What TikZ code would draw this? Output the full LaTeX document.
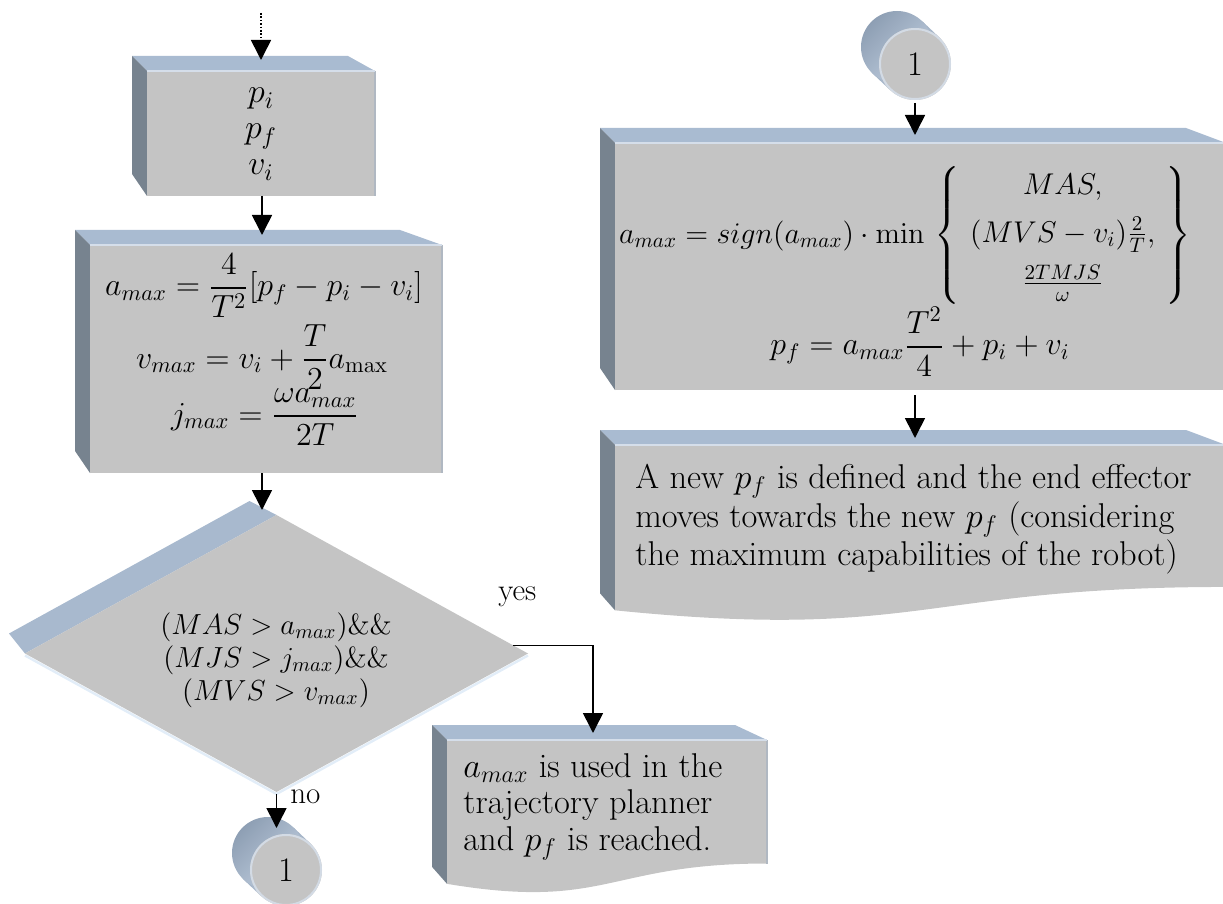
\RequirePackage{fix-cm}
\documentclass[tikz,border=0pt]{standalone}
\usepackage{amsmath}
\usetikzlibrary{arrows.meta,calc,backgrounds}
\definecolor{frontgray}{HTML}{C4C4C4}
\definecolor{topblue}{HTML}{A9BBD1}
\definecolor{sideslate}{HTML}{77838F}
\definecolor{hilite}{HTML}{D5DEEA}
\definecolor{rimgray}{HTML}{B0B8C2}
\definecolor{bevelblue}{HTML}{A8B9CE}
\definecolor{edgelight}{HTML}{E2EDF8}
\definecolor{cyldark}{HTML}{8E9FB4}
\definecolor{cyllight}{HTML}{C2D0E1}
\definecolor{cylrim}{HTML}{D3DBE5}
\tikzset{
  txt/.style={inner sep=0pt, font=\fontsize{17.2}{20}\selectfont},
  mtxt/.style={inner sep=0pt, font=\fontsize{16}{19}\selectfont},
  dtxt/.style={inner sep=0pt, font=\fontsize{14.5}{18}\selectfont},
  ltxt/.style={inner sep=0pt, font=\fontsize{15.5}{19}\selectfont},
  shapebox/.style={rectangle, inner sep=0pt, outer sep=0pt},
  conn/.style={circle, inner sep=0pt, outer sep=0pt, minimum size=36pt, font=\fontsize{17.2}{20}\selectfont},
  arr/.style={draw=black, line width=0.8pt, -{Triangle[width=10pt,length=10pt]}},
  dotarr/.style={arr, dash pattern=on 0.8pt off 0.9pt},
  topface/.style={fill=topblue},
  sideface/.style={fill=sideslate},
  frontface/.style={fill=frontgray},
  hiline/.style={draw=hilite, line width=1pt},
  rimline/.style={draw=rimgray, line width=1.2pt},
  cylbody/.style={left color=cyldark, right color=cyllight, shading angle=45},
}
\newcommand\rectbevel[2]{%
  \fill[topface] ($(#1.north west)+(-15,-15)$) -- ($(#1.north east)+(-#2,-15)$) -- (#1.north east) -- (#1.north west) -- cycle;
  \fill[sideface] ($(#1.north west)+(-15,-15)$) -- (#1.north west) -- (#1.south west) -- ($(#1.south west)+(-15,-22)$) -- cycle;
  \fill[frontface] (#1.north west) rectangle (#1.south east);
  \draw[rimline] (#1.north east) -- (#1.south east);
  \draw[hiline] (#1.north west) -- (#1.north east);
}
\newcommand\docbevel[2]{%
  \coordinate (#1L) at ($(#1.north west)!0.934!(#1.south west)$);
  \coordinate (#1R) at ($(#1.north east)!0.802!(#1.south east)$);
  \fill[topface] ($(#1.north west)+(-15,-15)$) -- ($(#1.north east)+(-#2,-15)$) -- (#1.north east) -- (#1.north west) -- cycle;
  \fill[sideface] ($(#1.north west)+(-15,-15)$) -- (#1.north west) -- (#1L) -- ($(#1L)+(-15,-17)$) -- cycle;
  \fill[frontface] (#1.north west) -- (#1.north east) -- (#1R) .. controls ($(#1.north)!0.802!(#1.south)$) and ($(#1.north)!1.108!(#1.south)$) .. (#1L) -- cycle;
  \draw[rimline] (#1.north east) -- (#1R);
  \draw[hiline] (#1.north west) -- (#1.north east);
}
\newcommand\cylconn[1]{%
  \coordinate (#1back) at ($(#1.center)+(-18,-17)$);
  \shade[cylbody] ($(#1back)+(25.5,-25.5)$) -- ($(#1.center)+(25.5,-25.5)$) -- ($(#1.center)+(-25.5,25.5)$) -- ($(#1back)+(-25.5,25.5)$) -- cycle;
  \shade[cylbody] (#1back) circle[radius=18pt];
  \fill[frontface] (#1.center) circle[radius=18pt];
  \draw[draw=cylrim, line width=1pt] (#1.center) circle[radius=17.5pt];
}
\begin{document}
\begin{tikzpicture}[x=0.5pt,y=-0.5pt]
\useasboundingbox (0,0) rectangle (1223,904);
\clip (0,0) rectangle (1223,904);

% shape nodes
\node[shapebox, minimum width=114pt, minimum height=62.5pt] (b1) at (261,133.5) {};
\node[shapebox, minimum width=176pt, minimum height=114pt] (b2) at (266,359) {};
\node[shapebox, minimum width=251.5pt, minimum height=138.5pt] (dia) at (276.5,653.5) {};
\node[shapebox, minimum width=160pt, minimum height=77pt] (b3) at (607,817) {};
\node[shapebox, minimum width=305.5pt, minimum height=123.5pt] (b4) at (920.5,266.5) {};
\node[shapebox, minimum width=305.5pt, minimum height=88.5pt] (b5) at (920.5,533.5) {};
\node[conn] (c1) at (286,870) {1};
\node[conn] (c2) at (915,64) {1};

\begin{scope}[on background layer]
  \rectbevel{b1}{27}
  \rectbevel{b2}{42}
  \rectbevel{b4}{40}
  \docbevel{b3}{32}
  \docbevel{b5}{40}
  % decision
  \fill[bevelblue] ($(dia.west)+(-16,-20)$) -- ($(dia.north)+(-27,-14)$) -- (dia.north) -- (dia.west) -- cycle;
  \draw[draw=edgelight, line width=1.2pt] ($(dia.west)+(0,2)$) -- ($(dia.south)+(0,2)$) -- ($(dia.east)+(0,2)$);
  \fill[frontface] (dia.north) -- (dia.east) -- (dia.south) -- (dia.west) -- cycle;
  \cylconn{c1}
  \cylconn{c2}
\end{scope}

% texts
\node[mtxt, font=\fontsize{17}{20}\selectfont, anchor=base] (t1a) at (261,103) {$p_i$};
\node[mtxt, font=\fontsize{17}{20}\selectfont, anchor=base] (t1b) at (261,139) {$p_f$};
\node[mtxt, font=\fontsize{17}{20}\selectfont, anchor=base] (t1c) at (261,175) {$v_i$};

\node[mtxt, anchor=base] (t2a) at (264,296) {$\displaystyle a_{max}=\frac{4}{T^2}[p_f-p_i-v_i]$};
\node[mtxt, anchor=base] (t2b) at (262,368) {$\displaystyle v_{max}=v_i+\frac{T}{2}a_{\mathrm{max}}$};
\node[mtxt, anchor=base] (t2c) at (265,424) {$\displaystyle j_{max}=\frac{\omega a_{max}}{2T}$};

\node[dtxt, anchor=base] (t3d) at (276,634) {$(MAS>a_{max})$\&\&};
\node[dtxt, anchor=base] (t3e) at (276,667) {$(MJS>j_{max})$\&\&};
\node[dtxt, anchor=base] (t3f) at (276,700) {$(MVS>v_{max})$};

\node[txt, anchor=base west] (t3a) at (463,777) {$a_{max}$ is used in the};
\node[txt, anchor=base west] (t3b) at (463,813) {trajectory planner};
\node[txt, anchor=base west] (t3c) at (463,850) {and $p_f$ is reached.};

\node[mtxt, font=\fontsize{15}{18}\selectfont, anchor=base] (t4a) at (905,243) {$\displaystyle a_{max}=sign(a_{max})\cdot\min\,\left\{\begin{array}{c}MAS,\\[6pt](MVS-v_i)\tfrac{2}{T},\\[6pt]\tfrac{2TMJS}{\omega}\end{array}\right\}$};
\node[mtxt, anchor=base] (t4b) at (920,355) {$\displaystyle p_f=a_{max}\frac{T^2}{4}+p_i+v_i$};

\node[txt, anchor=base west] (t5a) at (635,488) {A new $p_f$ is defined and the end effector};
\node[txt, anchor=base west] (t5b) at (635,527) {moves towards the new $p_f$ (considering};
\node[txt, anchor=base west] (t5c) at (635,565) {the maximum capabilities of the robot)};

\node[ltxt, anchor=base west] (ylab) at (498,600) {yes};
\node[ltxt, anchor=base west] (nlab) at (290,803) {no};

% connectors
\coordinate (start) at (261,13);
\coordinate (cl) at (262,0);
\coordinate (cy) at (593,0);
\coordinate (cr) at (915,0);
\coordinate (ystart) at ($(dia.east)!0.058!(dia.north)$);
\draw[dotarr, shorten >=5.5pt] (start) -- (b1.north -| start);
\draw[arr, shorten >=5pt] (b1.south -| cl) -- (b2.north -| cl);
\draw[arr, shorten >=2.5pt] (b2.south -| cl) -- (dia.north -| cl);
\draw[arr, shorten <=1pt, shorten >=3pt] (dia.south) -- (dia.south |- c1.north);
\draw[arr, shorten >=3.5pt] (ystart) -| (b3.north -| cy);
\draw[arr, shorten <=1.5pt, shorten >=4pt] (c2.south) -- (c2.south |- b4.north);
\draw[arr, shorten <=2.5pt, shorten >=3.5pt] (b4.south -| cr) -- (b5.north -| cr);
\end{tikzpicture}
\end{document}
